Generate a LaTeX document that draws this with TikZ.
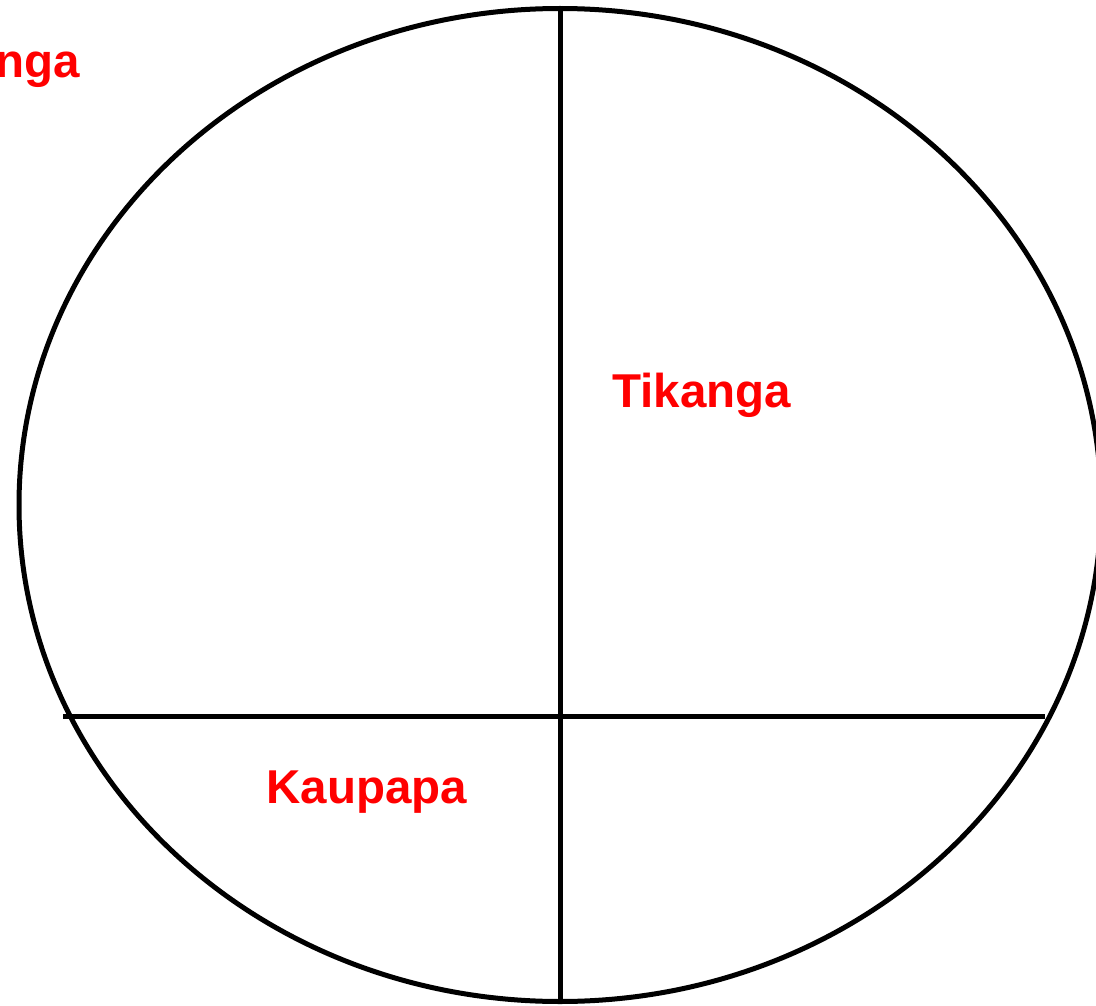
\documentclass[tikz,border=0pt]{standalone}
\usepackage{fontspec}
\setmainfont{Liberation Sans}
\usetikzlibrary{shapes.geometric}
\begin{document}
\begin{tikzpicture}[x=1pt,y=-1pt,line width=5pt,
  lbl/.style={text=red,font=\bfseries\fontsize{47.5}{52}\selectfont,inner sep=0pt}]
 \useasboundingbox (0,0) rectangle (1096,1006);
 \node[draw,ellipse,minimum width=1082pt,minimum height=993pt,inner sep=0pt] (oval) at (560,505) {};
 \coordinate (hl) at (63,716);
 \coordinate (hr) at (1045,716);
 \draw (oval.north)--(oval.south);
 \draw (hl)--(hr);
 \node[lbl,anchor=base west] (tik) at (610,407) {Tikanga};
 \node[lbl,anchor=base west] (kau) at (264,803) {Kaupapa};
 \node[lbl,anchor=base east] (corner) at (82,78) {nga};
\end{tikzpicture}
\end{document}
